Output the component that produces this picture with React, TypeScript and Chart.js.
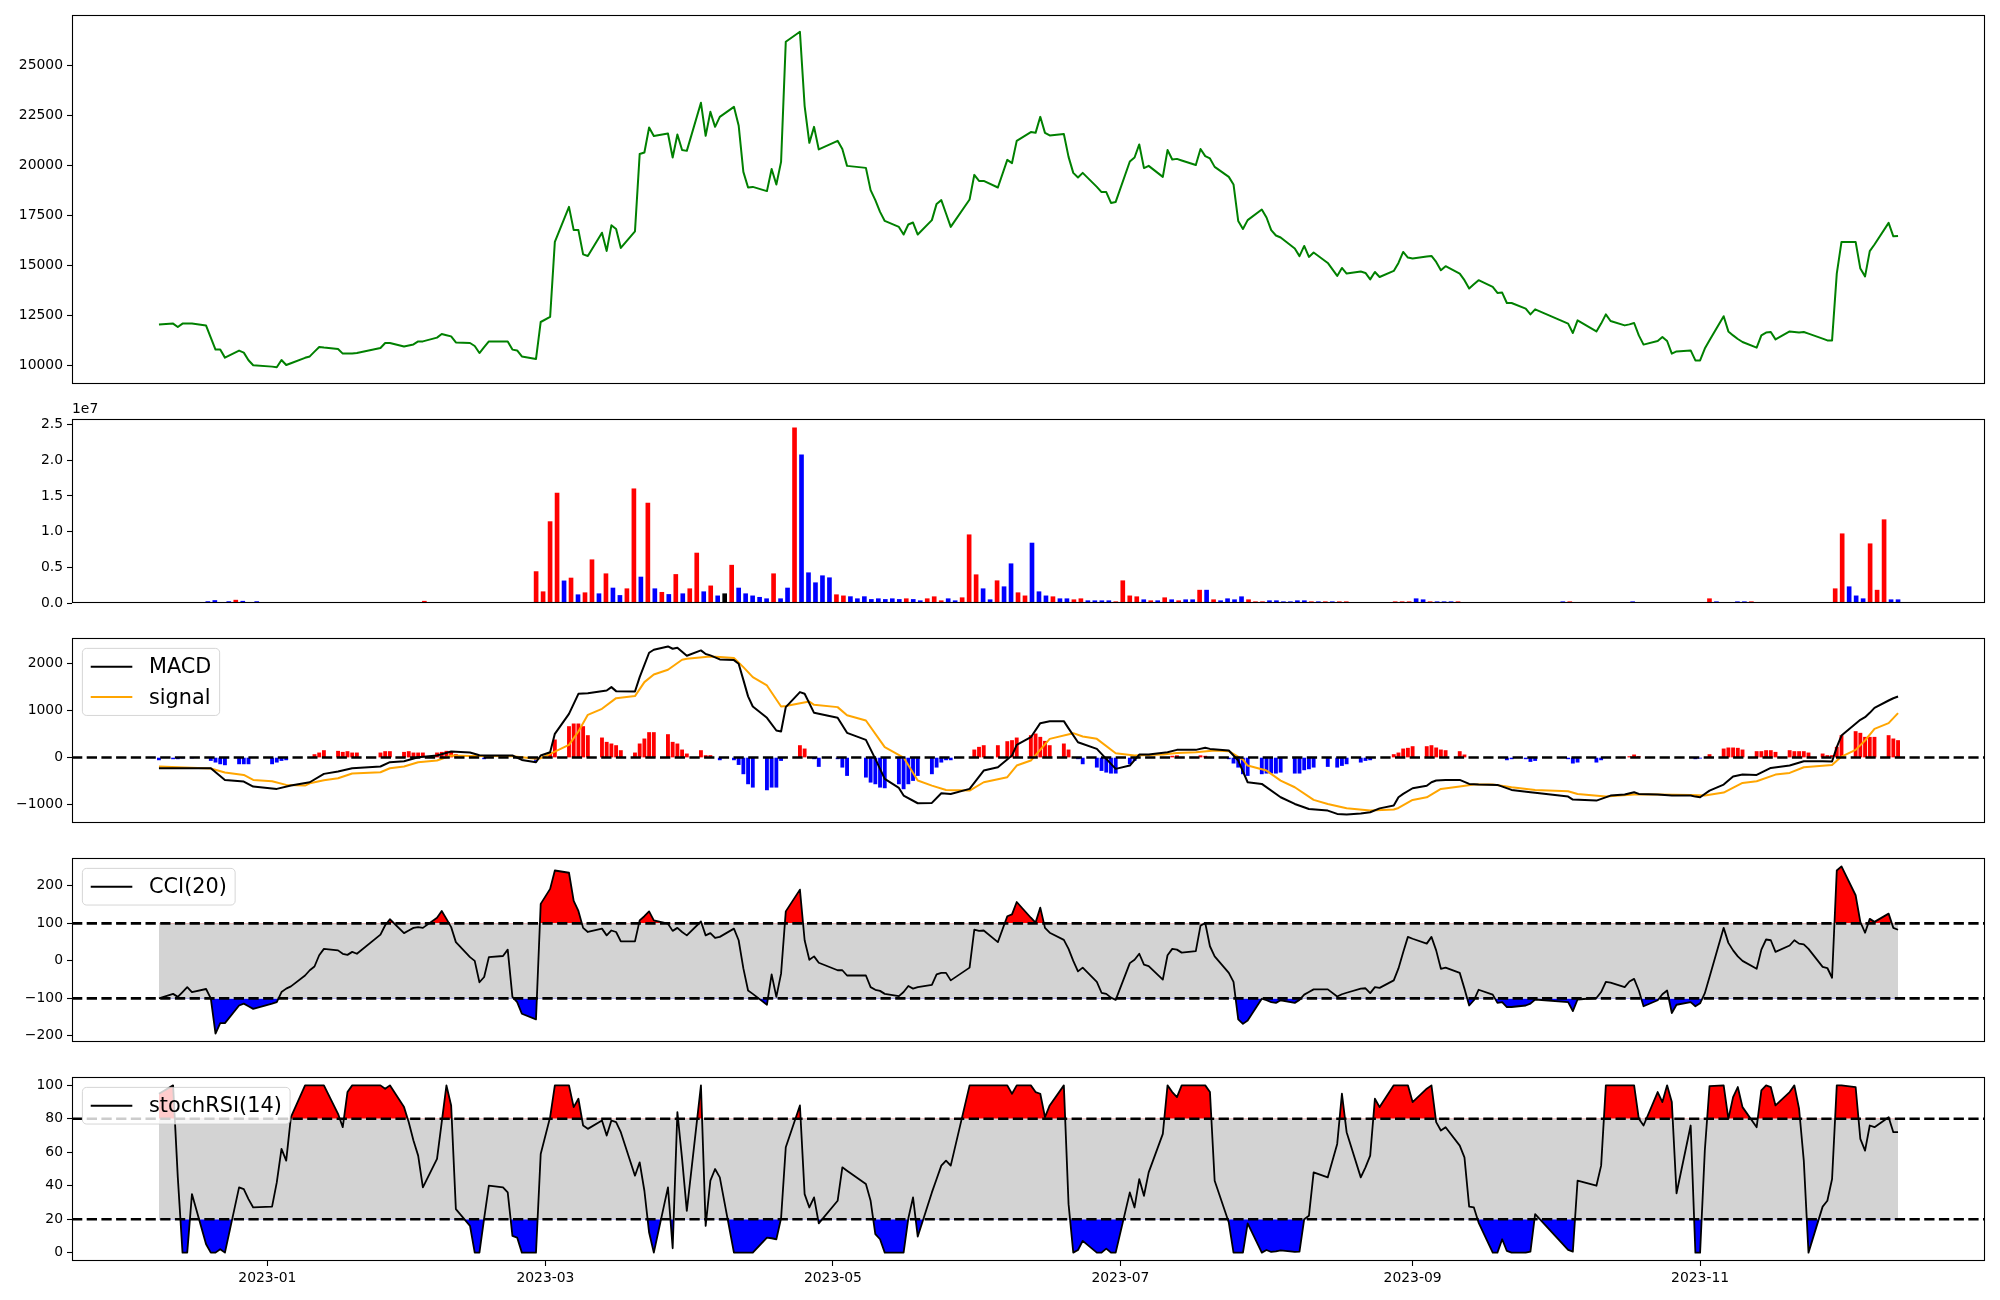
import React, { useEffect, useRef } from 'react';
import { Chart, registerables } from 'chart.js';

Chart.register(...registerables);
Chart.defaults.font.family = "'DejaVu Sans', sans-serif";
Chart.defaults.color = '#000';

// ---------------- categories ----------------
const FIRST_DAY = '2022-12-09';
const LAST_DAY = '2023-12-13';
const MARKET_HOLIDAYS = [
  '2022-12-30', '2023-01-23', '2023-01-24', '2023-03-01', '2023-05-01', '2023-05-05',
  '2023-05-29', '2023-06-06', '2023-08-15', '2023-09-28', '2023-09-29', '2023-10-02',
  '2023-10-03', '2023-10-09',
];
const MONTH_TICKS = ['2023-01', '2023-03', '2023-05', '2023-07', '2023-09', '2023-11'];

// ---------------- series values (one per trading day) ----------------
const price = [
  12050, 12100, 11930, 12100, 12100, 12100, 12000, 11400, 10800, 10800, 10400, 10750, 10650, 10270, 10020,
  9950, 9920, 10280, 10030, 10120, 10390, 10460, 10700, 10930, 10900, 10830, 10600, 10600, 10600, 10630, 10880, 11130, 11130, 10960, 11010,
  11060, 11210, 11210, 11400, 11580, 11520, 11460, 11160, 11130, 10980, 10630, 10920, 11210, 11210, 11210, 10800, 10760, 10460, 10330, 12180,
  12430, 16180, 17930, 16770, 16770, 15560, 15480, 16640, 15730, 17010, 16830, 15880, 16710, 20570, 20650, 21900, 21470, 21600, 20400, 21550, 20770, 20730,
  23130, 21480, 22680, 21930, 22430, 22930, 22000, 19680, 18900, 18930, 18720, 19820, 19050, 20180, 26180, 26680, 22970, 21130, 21930, 20800,
  21230, 20820, 19980, 19880, 18770, 18270, 17680, 17230, 16930, 16550, 17050, 17150, 16550, 17270, 18080, 18270, 17600, 16930, 18300, 19530,
  19230, 19230, 18900, 20280, 20120, 21230, 21670, 21630, 22430, 21630, 21500, 21570, 20430, 19630, 19400, 19630, 18930, 18670, 18670, 18130, 18180,
  20200, 20400, 21050, 19870, 19980, 19430, 20770, 20300, 20330, 20250, 20020, 20820, 20470, 20350, 19930, 19430, 19050, 17230, 16830, 17270, 17800,
  17400, 16770, 16500, 16400, 15850, 15470, 15980, 15430, 15650, 15130, 14480, 14880, 14600, 14700, 14630, 14310, 14680, 14430, 14730, 15130, 15680, 15400,
  15350, 15450, 15480, 15180, 14770, 14970, 14600, 14270, 13850, 14060, 14270, 13930, 13630, 13650, 13130, 13130, 12850, 12560, 12810,
  12100, 11630, 12260, 11710, 12100, 12560, 12230, 12010, 12060, 12130, 11510, 11050, 11230, 11430, 11230, 10600, 10710, 10760, 10260,
  10260, 10850, 11270, 12470, 11710, 11510, 11330, 11180, 10900, 11510, 11650, 11680, 11310, 11710, 11680, 11650, 11680, 11600, 11350, 11260, 11260, 14600,
  16180, 16180, 14850, 14460, 15720, 16050, 17130, 16460, 16480,
];

// volume in units of 1e7
const volume1e7 = [
  0, 0, 0, 0, 0, 0, 0, 0.02, 0.035, 0,
  0.02, 0.04, 0.025, 0, 0.02, 0, 0, 0, 0, 0,
  0, 0, 0, 0, 0, 0, 0, 0, 0, 0,
  0, 0, 0, 0, 0, 0, 0, 0, 0.025, 0,
  0, 0, 0, 0, 0, 0, 0, 0, 0, 0,
  0, 0, 0, 0, 0.44, 0.158, 1.14, 1.54, 0.31, 0.35,
  0.116, 0.144, 0.606, 0.13, 0.41, 0.21, 0.106, 0.2, 1.6, 0.364,
  1.4, 0.2, 0.15, 0.12, 0.4, 0.13, 0.2, 0.7, 0.158, 0.24,
  0.1, 0.13, 0.53, 0.21, 0.13, 0.1, 0.08, 0.06, 0.41, 0.06,
  0.21, 2.455, 2.077, 0.424, 0.284, 0.382, 0.354, 0.116, 0.1, 0.089,
  0.06, 0.089, 0.05, 0.06, 0.05, 0.06, 0.05, 0.06, 0.05, 0.032,
  0.06, 0.088, 0.032, 0.06, 0.032, 0.074, 0.956, 0.396, 0.2, 0.046,
  0.312, 0.228, 0.55, 0.144, 0.1, 0.84, 0.158, 0.1, 0.088, 0.06,
  0.06, 0.046, 0.06, 0.032, 0.032, 0.032, 0.032, 0.018, 0.312, 0.1,
  0.088, 0.046, 0.032, 0.032, 0.074, 0.046, 0.032, 0.046, 0.046, 0.18,
  0.18, 0.046, 0.032, 0.06, 0.046, 0.088, 0.046, 0.018, 0.018, 0.032,
  0.032, 0.018, 0.018, 0.032, 0.032, 0.018, 0.018, 0.018, 0.018, 0.018,
  0.018, 0, 0, 0, 0, 0, 0, 0.018, 0.018, 0.018,
  0.06, 0.046, 0.018, 0.018, 0.018, 0.018, 0.018, 0, 0, 0,
  0, 0, 0, 0, 0, 0, 0, 0, 0, 0,
  0, 0.018, 0.018, 0, 0, 0, 0, 0, 0, 0,
  0, 0.018, 0, 0, 0, 0, 0, 0, 0, 0,
  0, 0, 0.06, 0.018, 0, 0, 0.018, 0.018, 0.018, 0,
  0, 0, 0, 0, 0, 0, 0, 0, 0, 0,
  0.2, 0.97, 0.228, 0.1, 0.06, 0.83, 0.18, 1.167, 0.046, 0.046,
];

// 1 = up day (red), -1 = down day (blue), 0 = unchanged (black)
const volumeDir = [
  1, 1, 1, 1, 1, 1, 1, -1, -1, 1,
  -1, 1, -1, 1, -1, 1, 1, 1, 1, 1,
  1, 1, 1, 1, 1, 1, 1, 1, 1, 1,
  1, 1, 1, 1, 1, 1, 1, 1, 1, 1,
  1, 1, 1, 1, 1, 1, 1, 1, 1, 1,
  1, 1, 1, 1, 1, 1, 1, 1, -1, 1,
  -1, 1, 1, -1, 1, -1, -1, 1, 1, -1,
  1, -1, 1, -1, 1, -1, 1, 1, -1, 1,
  -1, 0, 1, -1, -1, -1, -1, -1, 1, -1,
  -1, 1, -1, -1, -1, -1, -1, 1, 1, -1,
  -1, -1, -1, -1, -1, -1, -1, 1, -1, -1,
  1, 1, 1, -1, -1, 1, 1, 1, -1, -1,
  1, -1, -1, 1, 1, -1, -1, -1, 1, -1,
  -1, 1, 1, -1, -1, -1, -1, 1, 1, 1,
  1, -1, 1, -1, 1, -1, 1, -1, -1, 1,
  -1, 1, -1, -1, -1, -1, 1, 1, 1, -1,
  -1, -1, -1, -1, -1, 1, -1, 1, -1, 1,
  1, 1, 1, 1, 1, 1, 1, 1, 1, 1,
  -1, -1, 1, -1, -1, -1, 1, 1, 1, 1,
  1, 1, 1, 1, 1, 1, 1, 1, 1, 1,
  1, -1, 1, 1, 1, 1, 1, 1, 1, 1,
  1, -1, 1, 1, 1, 1, 1, 1, 1, 1,
  1, 1, 1, -1, 1, 1, -1, -1, 1, 1,
  1, 1, 1, 1, 1, 1, 1, 1, 1, 1,
  1, 1, -1, -1, -1, 1, 1, 1, -1, -1,
];

// [trading-day index, value]
const macdPoints = [
  [0, -227], [7, -227], [10, -475], [12, -510], [14, -617], [16, -666], [19, -596], [21, -525], [24, -347], [25, -298],
  [28, -227], [30, -191], [32, -99], [33, -78], [36, 7], [38, 43], [41, 128], [43, 106], [45, 50], [47, 43],
  [50, 43], [52, -50], [53, -99], [54, 43], [55, 113], [56, 503], [57, 929], [59, 1354], [61, 1368], [63, 1425],
  [64, 1496], [65, 1411], [67, 1404], [68, 1709], [70, 2226], [71, 2290], [72, 2361], [73, 2311], [74, 2333], [76, 2162],
  [77, 2276], [78, 2198], [79, 2170], [81, 2085], [82, 2070], [83, 1992], [84, 1650], [85, 1300], [86, 1085], [87, 844],
  [89, 574], [90, 553], [91, 1071], [92, 1390], [93, 1354], [95, 950], [97, 844], [99, 525], [100, 376], [102, -28],
  [104, -454], [105, -645], [106, -808], [109, -971], [110, -964], [112, -759], [114, -773], [115, -666], [118, -277], [119, -206],
  [121, 43], [122, 269], [123, 432], [125, 730], [127, 773], [128, 773], [129, 620], [131, 326], [133, 184], [137, -241],
  [138, -170], [140, 64], [142, 64], [144, 113], [146, 163], [148, 163], [150, 206], [151, 184], [153, 149], [155, -64],
  [157, -525], [158, -560], [162, -844], [163, -986], [166, -1092], [168, -1127], [169, -1198], [171, -1212], [172, -1190], [174, -1163],
  [176, -1080], [177, -1021], [178, -844], [179, -773], [181, -652], [182, -600], [183, -525], [184, -489], [186, -475], [187, -475],
  [189, -560], [191, -574], [193, -581], [196, -688], [198, -737], [199, -750], [200, -830], [201, -893], [203, -915], [206, -808],
  [207, -787], [209, -737], [210, -773], [212, -787], [215, -808], [217, -808], [218, -830], [219, -844], [221, -702], [222, -574],
  [224, -404], [226, -362], [227, -369], [230, -220], [232, -170], [235, -78], [237, -78], [239, -85], [240, 220], [241, 468],
  [243, 801], [244, 858], [245, 950], [246, 1056], [247, 1212], [248, 1260], [249, 1297],
];

const signalPoints = [
  [0, -191], [7, -234], [10, -319], [12, -369], [14, -475], [15, -503], [18, -581], [20, -596], [21, -546], [24, -482],
  [25, -440], [28, -340], [30, -312], [32, -227], [33, -191], [36, -99], [38, -64], [41, 43], [43, 35], [47, 35],
  [50, 28], [53, -28], [54, -14], [55, 78], [57, 269], [59, 553], [61, 907], [62, 1035], [65, 1262], [67, 1305],
  [69, 1602], [71, 1765], [72, 1864], [75, 2077], [76, 2100], [79, 2148], [81, 2134], [82, 2113], [84, 1921], [86, 1709],
  [87, 1531], [90, 1085], [91, 1095], [94, 1191], [95, 1120], [97, 1071], [99, 900], [100, 787], [104, 220], [106, 0],
  [109, -489], [110, -596], [113, -688], [115, -702], [118, -525], [120, -418], [122, -170], [123, -64], [127, 397], [130, 518],
  [132, 447], [133, 397], [137, 92], [139, 43], [143, 64], [146, 99], [148, 113], [152, 149], [153, 135], [156, -43],
  [157, -170], [159, -277], [162, -489], [163, -631], [167, -900], [168, -986], [171, -1078], [174, -1127], [177, -1105], [178, -1071],
  [181, -900], [182, -844], [185, -666], [187, -617], [190, -574], [192, -574], [196, -631], [199, -688], [200, -716], [202, -773],
  [205, -830], [209, -787], [212, -787], [217, -794], [220, -808], [222, -745], [226, -539], [227, -503], [231, -362], [232, -326],
  [235, -206], [239, -156], [241, 21], [242, 163], [244, 362], [246, 610], [247, 730], [249, 943],
];

const histPoints = [
  [0, -50], [1, -28], [2, -28], [3, -7], [5, -7], [7, -64], [8, -99], [9, -135], [10, -156], [11, -135], [12, -135], [13, -135],
  [15, -135], [16, -99], [17, -64], [18, -50],
  [22, 64], [23, 99], [24, 149], [25, 135], [26, 113], [27, 128], [28, 99], [29, 99], [30, 99], [31, 128], [32, 128], [33, 113],
  [34, 128], [35, 99], [36, 99], [37, 99], [38, 99], [39, 113], [40, 135], [41, 113], [42, 64],
  [46, -28], [53, -64],
  [55, 99], [56, 376], [57, 659], [58, 716], [59, 716], [60, 659], [61, 468], [62, 418], [63, 326], [64, 291], [65, 255], [66, 149],
  [67, 99], [68, 291], [69, 397], [70, 532], [71, 532], [72, 489], [73, 326], [74, 291], [75, 163], [76, 78], [77, 149], [78, 43], [79, 43],
  [81, -50], [82, -50], [83, -150], [84, -347], [85, -560], [86, -631], [87, -688], [88, -631], [89, -631], [90, -64],
  [92, 255], [93, 184],
  [95, -28], [96, -191], [97, -28], [98, -206], [99, -383], [100, -418], [101, -525], [102, -560], [103, -631], [104, -645],
  [105, -560], [106, -666], [107, -560], [108, -489], [109, -383], [110, -347], [111, -206], [112, -99], [113, -50], [114, -50],
  [116, 163], [117, 220], [118, 255], [119, 255], [120, 340], [121, 362], [122, 418], [123, 468], [124, 503], [125, 432],
  [126, 347], [127, 255], [128, 291], [129, 163],
  [131, -28], [132, -135], [133, -206], [134, -277], [135, -312], [136, -333], [137, -333], [138, -135], [139, -64],
  [145, 30], [146, 40], [149, 40], [150, 30],
  [153, -28], [154, -120], [155, -206], [156, -347], [157, -383], [158, -347], [159, -333], [160, -333], [161, -333], [162, -312],
  [163, -333], [164, -333], [165, -262], [166, -241], [167, -206], [168, -191], [169, -206], [170, -170], [171, -135], [172, -99],
  [173, -64], [174, -50],
  [177, 64], [178, 99], [179, 184], [180, 199], [181, 234], [182, 234], [183, 255], [184, 206], [185, 163], [186, 149], [187, 128], [188, 57],
  [195, -50], [196, -28], [197, -28], [198, -85], [199, -64], [200, -28], [201, -120], [202, -99], [203, -99], [204, -50],
  [208, 21], [209, 57], [210, 21], [218, -28], [219, -14],
  [221, 64], [222, 184], [223, 206], [224, 206], [225, 199], [226, 163], [227, 128], [228, 128], [229, 149], [230, 149],
  [231, 113], [232, 149], [233, 128], [234, 128], [235, 128], [236, 99], [237, 78], [238, 43], [239, 43], [240, 220],
  [241, 468], [242, 553], [243, 518], [244, 432], [245, 432], [246, 432], [247, 468], [248, 397], [249, 362],
];

const cci20 = [
  -100, -88, -96, -83, -70, -83, -75, -100, -194, -166,
  -166, -119, -114, -121, -128, -114, -110, -83, -74, -68,
  -39, -25, -15, 15, 32, 28, 19, 16, 24, 19,
  70, 95, 111, 74, 81, 88, 90, 88, 115, 133,
  112, 90, 50, 10, 0, -57, -43, 10, 13, 30,
  -96, -110, -141, -156, 152, 192, 241, 235, 160, 133,
  88, 77, 86, 68, 81, 77, 52, 52, 108, 119,
  132, 108, 99, 80, 88, 77, 68, 105, 68, 74,
  61, 64, 86, 55, -20, -79, -88, -117, -36, -96,
  -34, 132, 190, 55, 3, 12, -5, -25, -25, -39,
  -39, -70, -77, -80, -88, -94, -83, -67, -74, -70,
  -64, -36, -32, -32, -52, -18, 83, 80, 81, 50,
  119, 124, 157, 115, 102, 142, 88, 75, 56, 32,
  0, -28, -18, -56, -85, -88, -98, -104, -6, 3,
  19, -10, -14, -50, 15, 32, 30, 22, 26, 94,
  101, 39, 12, -32, -56, -156, -168, -159, -101, -105,
  -110, -112, -105, -112, -104, -90, -83, -76, -76, -95,
  -89, -85, -74, -73, -86, -70, -72, -52, -20, 23,
  64, 59, 46, 64, 28, -21, -18, -32, -74, -119,
  -105, -77, -90, -112, -110, -123, -123, -119, -114, -103,
  -110, -134, -103, -99, -83, -56, -58, -70, -55, -48,
  -79, -121, -105, -89, -79, -139, -117, -110, -121, -113,
  -86, -43, 88, 48, 28, 12, 0, -21, 30, 57,
  55, 24, 41, 55, 46, 44, 32, -16, -19, -45,
  241, 252, 175, 104, 75, 112, 104, 126, 88, 83,
];

const stochRsi14 = [
  95, 100, 45, 0, 0, 35, 5, 0, 0, 2,
  0, 39, 38, 32, 27, 27.5, 42, 62, 55, 81,
  100, 100, 100, 100, 100, 83, 75, 96, 100, 100,
  100, 98, 100, 87, 78, 67, 58, 39, 56, 78,
  100, 88, 26, 16, 0, 0, 20.5, 40, 39, 36,
  10, 9, 0, 0, 59, 81, 100, 100, 87, 92,
  76, 74, 79, 70, 79, 78, 72, 46, 54, 37,
  12, 0, 39, 2.6, 84, 56, 25, 100, 16, 43,
  50, 45, 0, 0, 0, 0, 0, 9, 8.6, 8,
  20.5, 63, 88, 35, 27, 33, 17.5, 31, 51, 49,
  41, 31, 11, 8, 0, 0, 0, 20.5, 33, 9.6,
  36, 44, 52, 55, 52, 100, 100, 100, 100, 100,
  100, 95, 100, 100, 96, 95, 81, 88, 100, 29,
  0, 1.6, 7, 0, 0, 2.4, 0, 0, 36, 27,
  44, 34, 48, 71, 100, 96, 93, 100, 100, 100,
  100, 96, 43, 18, 0, 0, 0, 17.5, 0, 1.6,
  0.4, 0.8, 1.4, 0.4, 0.6, 20, 22, 48, 45, 65,
  95, 72, 45, 51, 58, 92, 87, 100, 100, 100,
  100, 90, 98, 100, 78, 73, 75, 64, 57, 27.5,
  27, 18, 0, 0, 8, 1, 0, 0, 0.6, 23,
  1.6, 0.6, 43, 40, 52, 100, 100, 100, 100, 100,
  80, 76, 96, 90, 100, 90, 35.5, 76, 0, 0,
  61, 99.6, 100, 80, 93, 99, 87, 75, 97, 100,
  99, 88, 96, 100, 86, 55, 0, 27.5, 31, 44,
  100, 100, 99, 68, 61, 76, 75, 81, 72, 72,
];

// axis tick values
const priceTicks = [10000, 12500, 15000, 17500, 20000, 22500, 25000];
const volumeTicks = [0, 0.5, 1, 1.5, 2, 2.5];
const macdTicks = [-1000, 0, 1000, 2000];
const cciTicks = [-200, -100, 0, 100, 200];
const stochTicks = [0, 20, 40, 60, 80, 100];
const CCI_BANDS = [-100, 100];
const STOCH_BANDS = [20, 80];

// ---------------- helpers ----------------
const DAY_MS = 86400000;
const EPOCH = Date.UTC(2023, 0, 1);
function dayOffset(iso: string) {
  const p = iso.split('-').map(Number);
  return (Date.UTC(p[0], p[1] - 1, p[2] || 1) - EPOCH) / DAY_MS;
}
function buildTradingDays(): number[] {
  const hol = new Set(MARKET_HOLIDAYS.map(dayOffset));
  const out: number[] = [];
  for (let t = dayOffset(FIRST_DAY); t <= dayOffset(LAST_DAY); t++) {
    const wd = new Date(EPOCH + t * DAY_MS).getUTCDay();
    if (wd === 0 || wd === 6 || hol.has(t)) continue;
    out.push(t);
  }
  return out;
}
function padded(vals: number[]) {
  const mn = Math.min(...vals), mx = Math.max(...vals);
  const r = mx - mn;
  return [mn - 0.05 * r, mx + 0.05 * r];
}
const minusFmt = (v: number) => (v < 0 ? '\u2212' + Math.abs(v) : String(v));

const FONT = "'DejaVu Sans', sans-serif";
const TICK_FONT = { family: FONT, size: 13.9 };
const AXIS_W = 72;
const PAD_R = 15;
const PAD_T = 25;
const PAD_B = 15;
const X_AXIS_H = 35;

const PANELS = [
  { top: 15, bottom: 384 },
  { top: 419, bottom: 603 },
  { top: 638, bottom: 823 },
  { top: 858, bottom: 1042 },
  { top: 1077, bottom: 1261 },
];

const framePlugin = {
  id: 'frame',
  afterDraw(chart: any) {
    const { ctx, chartArea: a } = chart;
    ctx.save();
    ctx.strokeStyle = '#000';
    ctx.lineWidth = 1.1;
    ctx.strokeRect(a.left + 0.5, a.top + 0.5, a.right - a.left - 1, a.bottom - a.top - 1);
    ctx.restore();
  },
};

function hlinePlugin(values: number[]) {
  return {
    id: 'hlines',
    afterDatasetsDraw(chart: any) {
      const { ctx, chartArea: a } = chart;
      const ys = chart.scales.y;
      ctx.save();
      ctx.strokeStyle = '#000';
      ctx.lineWidth = 2.6;
      ctx.setLineDash([10.3, 4.4]);
      values.forEach((v) => {
        const py = ys.getPixelForValue(v);
        ctx.beginPath();
        ctx.moveTo(a.left, py);
        ctx.lineTo(a.right, py);
        ctx.stroke();
      });
      ctx.restore();
    },
  };
}

function legendPlugin(items: { label: string; color: string }[]) {
  return {
    id: 'mplLegend',
    afterDraw(chart: any) {
      const { ctx, chartArea: a } = chart;
      const fs = 20.8;
      const pad = 0.4 * fs, hl = 2 * fs, htp = 0.8 * fs, ls = 0.5 * fs, rowH = 20;
      ctx.save();
      ctx.font = `${fs}px ${FONT}`;
      const tw = Math.max(...items.map((it) => ctx.measureText(it.label).width));
      const x0 = a.left + 0.5 * fs;
      const y0 = a.top + 0.5 * fs;
      const w = 2 * pad + hl + htp + tw;
      const h = 2 * pad + items.length * rowH + (items.length - 1) * ls;
      const r = 0.2 * fs;
      ctx.beginPath();
      ctx.moveTo(x0 + r, y0);
      ctx.lineTo(x0 + w - r, y0);
      ctx.arcTo(x0 + w, y0, x0 + w, y0 + r, r);
      ctx.lineTo(x0 + w, y0 + h - r);
      ctx.arcTo(x0 + w, y0 + h, x0 + w - r, y0 + h, r);
      ctx.lineTo(x0 + r, y0 + h);
      ctx.arcTo(x0, y0 + h, x0, y0 + h - r, r);
      ctx.lineTo(x0, y0 + r);
      ctx.arcTo(x0, y0, x0 + r, y0, r);
      ctx.closePath();
      ctx.fillStyle = 'rgba(255,255,255,0.8)';
      ctx.fill();
      ctx.strokeStyle = 'rgba(204,204,204,0.8)';
      ctx.lineWidth = 1;
      ctx.stroke();
      items.forEach((it, k) => {
        const cy = y0 + pad + rowH / 2 + k * (rowH + ls);
        ctx.beginPath();
        ctx.moveTo(x0 + pad, cy);
        ctx.lineTo(x0 + pad + hl, cy);
        ctx.strokeStyle = it.color;
        ctx.lineWidth = 2;
        ctx.stroke();
        ctx.fillStyle = '#000';
        ctx.textAlign = 'left';
        ctx.textBaseline = 'middle';
        ctx.fillText(it.label, x0 + pad + hl + htp, cy + 1);
      });
      ctx.restore();
    },
  };
}

const offsetTextPlugin = {
  id: 'offsetText',
  afterDraw(chart: any) {
    const { ctx, chartArea: a } = chart;
    ctx.save();
    ctx.font = `13.9px ${FONT}`;
    ctx.fillStyle = '#000';
    ctx.textAlign = 'left';
    ctx.textBaseline = 'bottom';
    ctx.fillText('1e7', a.left, a.top - 3);
    ctx.restore();
  },
};

export default function App() {
  const r0 = useRef<HTMLCanvasElement>(null);
  const r1 = useRef<HTMLCanvasElement>(null);
  const r2 = useRef<HTMLCanvasElement>(null);
  const r3 = useRef<HTMLCanvasElement>(null);
  const r4 = useRef<HTMLCanvasElement>(null);
  const refs = [r0, r1, r2, r3, r4];

  const heights = PANELS.map((p, k) =>
    k === 4 ? p.bottom - p.top + PAD_T + X_AXIS_H : p.bottom - p.top + PAD_T + PAD_B
  );

  useEffect(() => {
    const days = buildTradingDays();
    const n = days.length;
    const d0 = days[0], dN = days[n - 1];
    const span = dN - d0;
    const xMin = d0 - 0.05 * span, xMax = dN + 0.05 * span;
    const monthDays = MONTH_TICKS.map(dayOffset);
    const volX = volume1e7.map((_, i) => d0 + (i * span) / (volume1e7.length - 1));

    const xAxis = (show: boolean) => ({
      type: 'linear',
      min: xMin,
      max: xMax,
      offset: false,
      display: show,
      grid: { display: show, offset: false, drawOnChartArea: false, drawTicks: true, tickLength: 5, tickColor: '#000', tickWidth: 1.1 },
      border: { display: false },
      afterBuildTicks: (s: any) => { s.ticks = monthDays.map((v) => ({ value: v })); },
      afterFit: (s: any) => { if (show) s.height = X_AXIS_H; },
      ticks: {
        autoSkip: false, maxRotation: 0, minRotation: 0, padding: 4, font: TICK_FONT, color: '#000',
        callback: (_v: any, i: number) => MONTH_TICKS[i],
      },
    });
    const yAxis = (range: number[], ticks: number[], fmt: (v: number) => string) => ({
      type: 'linear',
      position: 'left',
      min: range[0],
      max: range[1],
      grid: { drawOnChartArea: false, drawTicks: true, tickLength: 5, tickColor: '#000', tickWidth: 1.1 },
      border: { display: false },
      afterBuildTicks: (s: any) => { s.ticks = ticks.map((v) => ({ value: v })); },
      afterFit: (s: any) => { s.width = AXIS_W; },
      ticks: { padding: 4, font: TICK_FONT, color: '#000', callback: (v: any) => fmt(Number(v)) },
    });
    const baseOpts = (k: number, y: any) => ({
      animation: false,
      responsive: false,
      maintainAspectRatio: false,
      devicePixelRatio: 1,
      layout: { padding: { left: 0, right: PAD_R, top: PAD_T, bottom: k === 4 ? 0 : PAD_B } },
      plugins: { legend: { display: false }, tooltip: { enabled: false } },
      elements: { point: { radius: 0 }, line: { tension: 0, borderJoinStyle: 'round', borderCapStyle: 'butt' } },
      scales: { x: xAxis(k === 4), y },
    });

    const charts: any[] = [];
    const pts = (vals: number[]) => vals.map((v, i) => ({ x: days[i], y: v }));
    const sparse = (p: number[][]) => p.map(([i, v]) => ({ x: days[i], y: v }));

    // Panel 1: price
    charts.push(new Chart(refs[0].current as any, {
      type: 'line',
      data: { datasets: [{ data: pts(price), borderColor: '#008000', borderWidth: 2, pointRadius: 0, fill: false }] },
      options: baseOpts(0, yAxis(padded(price), priceTicks, (v) => String(v))) as any,
      plugins: [framePlugin],
    }));

    // Panel 2: volume
    const volMax = Math.max(...volume1e7);
    charts.push(new Chart(refs[1].current as any, {
      type: 'bar',
      data: {
        datasets: [{
          data: volume1e7.map((v, i) => ({ x: volX[i], y: v })),
          backgroundColor: volumeDir.map((d) => (d > 0 ? '#ff0000' : d < 0 ? '#0000ff' : '#000000')),
          borderWidth: 0,
          barThickness: 4,
        }],
      },
      options: baseOpts(1, yAxis([0, volMax * 1.05], volumeTicks, (v) => v.toFixed(1))) as any,
      plugins: [framePlugin, offsetTextPlugin],
    }));

    // Panel 3: MACD
    const macdVals = [...macdPoints, ...signalPoints, ...histPoints].map((p) => p[1]);
    charts.push(new Chart(refs[2].current as any, {
      type: 'bar',
      data: {
        datasets: [
          { type: 'line', data: sparse(macdPoints), borderColor: '#000000', borderWidth: 2, pointRadius: 0, fill: false, order: 0 },
          { type: 'line', data: sparse(signalPoints), borderColor: '#ffa500', borderWidth: 2, pointRadius: 0, fill: false, order: 1 },
          {
            type: 'bar', data: sparse(histPoints),
            backgroundColor: histPoints.map((p) => (p[1] >= 0 ? '#ff0000' : '#0000ff')),
            borderWidth: 0, barThickness: 3.2, order: 2,
          },
        ] as any,
      },
      options: baseOpts(2, yAxis(padded(macdVals), macdTicks, minusFmt)) as any,
      plugins: [hlinePlugin([0]), framePlugin, legendPlugin([{ label: 'MACD', color: '#000000' }, { label: 'signal', color: '#ffa500' }])],
    }));

    // Panel 4: CCI
    charts.push(new Chart(refs[3].current as any, {
      type: 'line',
      data: {
        datasets: [
          { data: pts(cci20), borderColor: '#000000', borderWidth: 1.8, pointRadius: 0, fill: false, order: 0 },
          { data: pts(cci20), borderColor: 'rgba(0,0,0,0)', borderWidth: 0, pointRadius: 0, fill: { target: { value: CCI_BANDS[1] }, above: '#ff0000', below: 'rgba(0,0,0,0)' }, order: 5 },
          { data: pts(cci20), borderColor: 'rgba(0,0,0,0)', borderWidth: 0, pointRadius: 0, fill: { target: { value: CCI_BANDS[0] }, above: 'rgba(0,0,0,0)', below: '#0000ff' }, order: 6 },
          { data: [{ x: d0, y: CCI_BANDS[1] }, { x: dN, y: CCI_BANDS[1] }], borderColor: 'rgba(0,0,0,0)', borderWidth: 0, pointRadius: 0, fill: { target: { value: CCI_BANDS[0] } }, backgroundColor: '#d3d3d3', order: 10 },
        ] as any,
      },
      options: baseOpts(3, yAxis(padded(cci20), cciTicks, minusFmt)) as any,
      plugins: [hlinePlugin(CCI_BANDS), framePlugin, legendPlugin([{ label: 'CCI(20)', color: '#000000' }])],
    }));

    // Panel 5: stochRSI
    charts.push(new Chart(refs[4].current as any, {
      type: 'line',
      data: {
        datasets: [
          { data: pts(stochRsi14), borderColor: '#000000', borderWidth: 1.8, pointRadius: 0, fill: false, order: 0 },
          { data: pts(stochRsi14), borderColor: 'rgba(0,0,0,0)', borderWidth: 0, pointRadius: 0, fill: { target: { value: STOCH_BANDS[1] }, above: '#ff0000', below: 'rgba(0,0,0,0)' }, order: 5 },
          { data: pts(stochRsi14), borderColor: 'rgba(0,0,0,0)', borderWidth: 0, pointRadius: 0, fill: { target: { value: STOCH_BANDS[0] }, above: 'rgba(0,0,0,0)', below: '#0000ff' }, order: 6 },
          { data: [{ x: d0, y: STOCH_BANDS[1] }, { x: dN, y: STOCH_BANDS[1] }], borderColor: 'rgba(0,0,0,0)', borderWidth: 0, pointRadius: 0, fill: { target: { value: STOCH_BANDS[0] } }, backgroundColor: '#d3d3d3', order: 10 },
        ] as any,
      },
      options: baseOpts(4, yAxis(padded(stochRsi14), stochTicks, (v) => String(v))) as any,
      plugins: [hlinePlugin(STOCH_BANDS), framePlugin, legendPlugin([{ label: 'stochRSI(14)', color: '#000000' }])],
    }));

    return () => { charts.forEach((c) => c.destroy()); };
  }, []);

  return (
    <div style={{ position: 'absolute', left: 0, top: 0, width: 2000, height: 1300, background: '#ffffff', overflow: 'hidden' }}>
      {PANELS.map((p, k) => (
        <canvas
          key={k}
          ref={refs[k]}
          width={2000}
          height={heights[k]}
          style={{ position: 'absolute', left: 0, top: p.top - PAD_T, width: 2000, height: heights[k] }}
        />
      ))}
    </div>
  );
}
